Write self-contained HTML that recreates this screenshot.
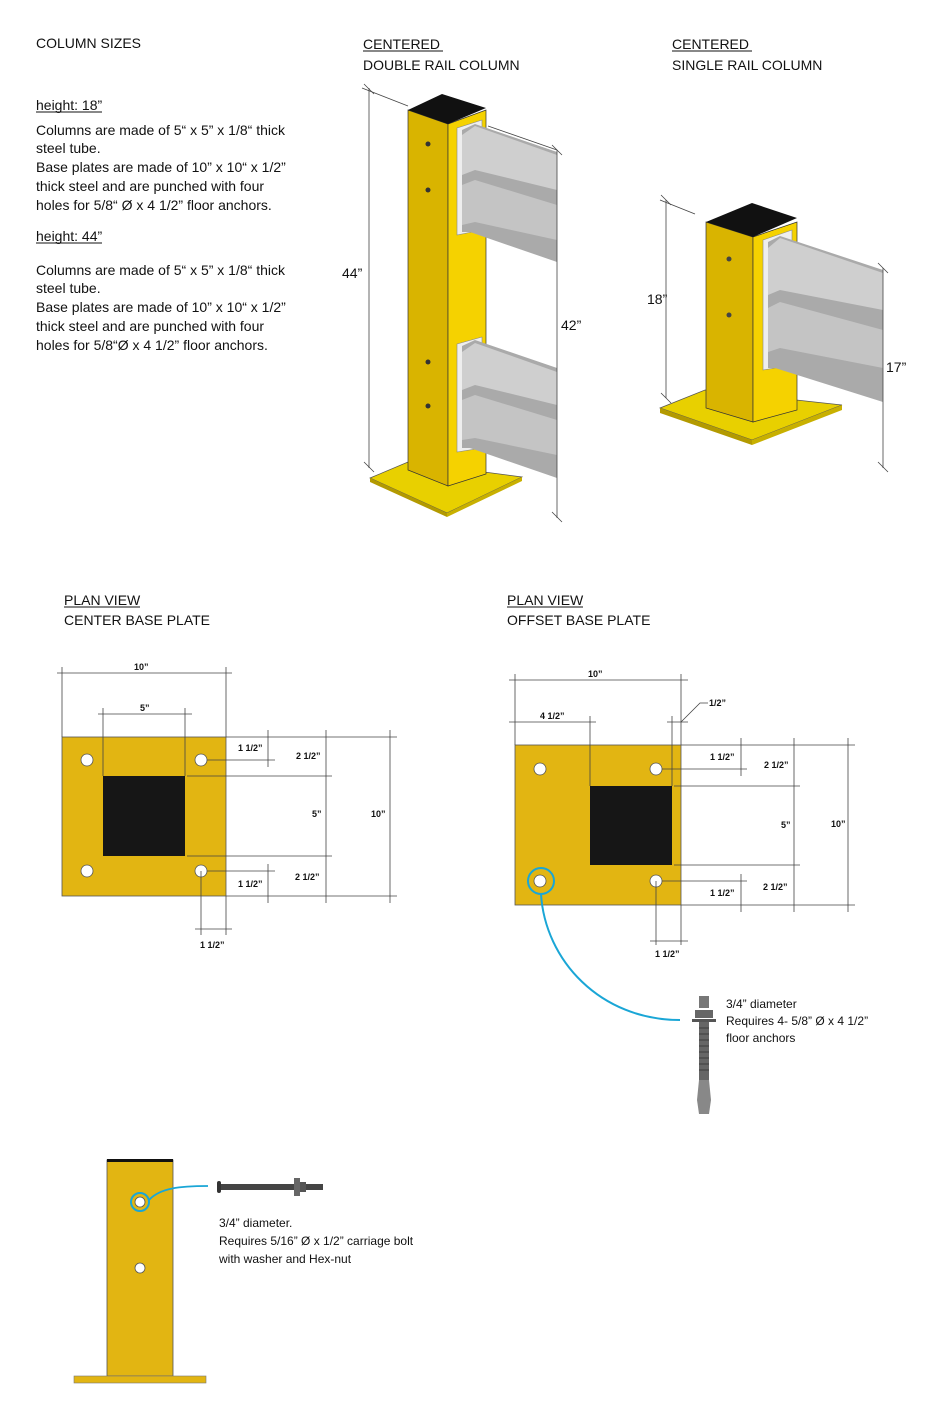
<!DOCTYPE html>
<html><head><meta charset="utf-8"><style>
html,body{margin:0;padding:0;background:#fff;}
svg{display:block;font-family:"Liberation Sans",sans-serif;}
.t{font-size:14px;fill:#111;}
.d{font-size:9px;font-weight:bold;fill:#111;}
.ln{stroke:#444;stroke-width:0.8;fill:none;}
</style></head><body>
<svg width="950" height="1404" viewBox="0 0 950 1404" xmlns="http://www.w3.org/2000/svg">
<text class="t" x="36" y="48">COLUMN SIZES</text>
<text class="t" x="363" y="49">CENTERED</text><line x1="363" y1="51" x2="443" y2="51" stroke="#111"/>
<text class="t" x="363" y="70">DOUBLE RAIL COLUMN</text>
<text class="t" x="672" y="49">CENTERED</text><line x1="672" y1="51" x2="752" y2="51" stroke="#111"/>
<text class="t" x="672" y="70">SINGLE RAIL COLUMN</text>
<text class="t" x="36" y="110">height: 18”</text><line x1="36" y1="112" x2="102" y2="112" stroke="#111"/>
<text class="t" x="36" y="135">Columns are made of 5“ x 5” x 1/8“ thick</text>
<text class="t" x="36" y="153">steel tube.</text>
<text class="t" x="36" y="172">Base plates are made of 10” x 10“ x 1/2”</text>
<text class="t" x="36" y="191">thick steel and are punched with four</text>
<text class="t" x="36" y="210">holes for 5/8“ Ø x 4 1/2” floor anchors.</text>
<text class="t" x="36" y="241">height: 44”</text><line x1="36" y1="243" x2="102" y2="243" stroke="#111"/>
<text class="t" x="36" y="275">Columns are made of 5“ x 5” x 1/8“ thick</text>
<text class="t" x="36" y="293">steel tube.</text>
<text class="t" x="36" y="312">Base plates are made of 10” x 10“ x 1/2”</text>
<text class="t" x="36" y="331">thick steel and are punched with four</text>
<text class="t" x="36" y="350">holes for 5/8“Ø  x 4 1/2” floor anchors.</text>

<line class="ln" x1="369" y1="88" x2="369" y2="468"/>
<line class="ln" x1="362" y1="88" x2="408" y2="106"/>
<line class="ln" x1="364" y1="84" x2="374" y2="94"/><line class="ln" x1="364" y1="462" x2="374" y2="472"/>
<text class="t" x="342" y="278">44”</text>
<polygon points="370,478 408,462 522,477 447,513" fill="#e8d000" stroke="#555" stroke-width="0.7"/>
<polygon points="370,478 447,513 447,517 370,482" fill="#b39a00"/>
<polygon points="447,513 522,477 522,481 447,517" fill="#c8b000"/>
<polygon points="408,110 448,124 448,486 408,470" fill="#d9b400" stroke="#333" stroke-width="0.7"/>
<polygon points="448,124 486,110 486,474 448,486" fill="#f5d200" stroke="#333" stroke-width="0.7"/>
<polygon points="408,110 442,94 486,108 448,124" fill="#111"/>
<circle cx="428" cy="144" r="2.5" fill="#333"/><circle cx="428" cy="190" r="2.5" fill="#333"/>
<circle cx="428" cy="362" r="2.5" fill="#333"/><circle cx="428" cy="406" r="2.5" fill="#333"/>
<polygon points="457,128 482,120 482,230 457,235" fill="#eee" stroke="#888" stroke-width="0.6"/>
<polygon points="462,130 475,124 557,152 557,262 470,232 462,232" fill="#aaa"/>
<polygon points="462,135 475,126 557,155 557,190 475,170 462,175" fill="#cfcfcf"/>
<polygon points="462,185 475,180 557,205 557,240 475,222 462,225" fill="#c4c4c4"/>
<polygon points="457,344 482,337 482,448 457,452" fill="#eee" stroke="#888" stroke-width="0.6"/>
<polygon points="462,346 475,340 557,368 557,478 470,448 462,448" fill="#aaa"/>
<polygon points="462,352 475,343 557,372 557,405 475,385 462,390" fill="#cfcfcf"/>
<polygon points="462,400 475,395 557,420 557,455 475,438 462,440" fill="#c4c4c4"/>
<line class="ln" x1="557" y1="150" x2="557" y2="518"/>
<line class="ln" x1="488" y1="126" x2="557" y2="150"/>
<line class="ln" x1="552" y1="145" x2="562" y2="155"/><line class="ln" x1="552" y1="512" x2="562" y2="522"/>
<text class="t" x="561" y="330">42”</text>

<line class="ln" x1="666" y1="200" x2="666" y2="398"/>
<line class="ln" x1="660" y1="200" x2="695" y2="214"/>
<line class="ln" x1="661" y1="195" x2="671" y2="205"/><line class="ln" x1="661" y1="393" x2="671" y2="403"/>
<text class="t" x="647" y="304">18”</text>
<polygon points="660,408 705,390 842,405 752,440" fill="#e8d000" stroke="#555" stroke-width="0.7"/>
<polygon points="660,408 752,440 752,445 660,413" fill="#b39a00"/>
<polygon points="752,440 842,405 842,410 752,445" fill="#c8b000"/>
<polygon points="706,222 753,237 753,422 706,408" fill="#d9b400" stroke="#333" stroke-width="0.7"/>
<polygon points="753,237 797,222 797,410 753,422" fill="#f5d200" stroke="#333" stroke-width="0.7"/>
<polygon points="706,222 752,203 797,218 753,237" fill="#111"/>
<circle cx="729" cy="259" r="2.5" fill="#444"/><circle cx="729" cy="315" r="2.5" fill="#444"/>
<polygon points="763,240 792,230 792,365 763,370" fill="#eee" stroke="#888" stroke-width="0.6"/>
<polygon points="768,242 780,236 883,270 883,402 775,368 768,368" fill="#aaa"/>
<polygon points="768,248 780,238 883,273 883,310 780,290 768,295" fill="#cfcfcf"/>
<polygon points="768,308 780,302 883,330 883,368 780,348 768,352" fill="#c4c4c4"/>
<line class="ln" x1="883" y1="268" x2="883" y2="468"/>
<line class="ln" x1="878" y1="263" x2="888" y2="273"/><line class="ln" x1="878" y1="462" x2="888" y2="472"/>
<text class="t" x="886" y="372">17”</text>

<text class="t" x="64" y="605">PLAN VIEW</text><line x1="64" y1="607" x2="140" y2="607" stroke="#111"/>
<text class="t" x="64" y="625">CENTER BASE PLATE</text>
<text class="t" x="507" y="605">PLAN VIEW</text><line x1="507" y1="607" x2="583" y2="607" stroke="#111"/>
<text class="t" x="507" y="625">OFFSET BASE PLATE</text>

<rect x="62" y="737" width="164" height="159" fill="#e2b512" stroke="#555" stroke-width="0.8"/>
<rect x="103" y="776" width="82" height="80" fill="#161616"/>
<g fill="#fff" stroke="#555" stroke-width="0.8">
<circle cx="87" cy="760" r="6"/><circle cx="201" cy="760" r="6"/><circle cx="87" cy="871" r="6"/><circle cx="201" cy="871" r="6"/></g>
<g class="ln">
<line x1="57" y1="673" x2="232" y2="673"/><line x1="62" y1="667" x2="62" y2="737"/><line x1="226" y1="667" x2="226" y2="737"/>
<line x1="98" y1="714" x2="192" y2="714"/><line x1="103" y1="708" x2="103" y2="776"/><line x1="185" y1="708" x2="185" y2="776"/>
<line x1="226" y1="737" x2="397" y2="737"/><line x1="226" y1="896" x2="397" y2="896"/>
<line x1="207" y1="760" x2="275" y2="760"/><line x1="207" y1="871" x2="275" y2="871"/>
<line x1="187" y1="776" x2="332" y2="776"/><line x1="187" y1="856" x2="332" y2="856"/>
<line x1="268" y1="730" x2="268" y2="767"/><line x1="268" y1="864" x2="268" y2="903"/>
<line x1="326" y1="730" x2="326" y2="903"/><line x1="390" y1="730" x2="390" y2="903"/>
<line x1="201" y1="871" x2="201" y2="935"/><line x1="226" y1="896" x2="226" y2="935"/><line x1="195" y1="929" x2="232" y2="929"/>
</g>
<text class="d" x="134" y="670">10”</text><text class="d" x="140" y="711">5”</text>
<text class="d" x="238" y="751">1 1/2”</text><text class="d" x="296" y="759">2 1/2”</text>
<text class="d" x="312" y="817">5”</text><text class="d" x="371" y="817">10”</text>
<text class="d" x="238" y="887">1 1/2”</text><text class="d" x="295" y="880">2 1/2”</text>
<text class="d" x="200" y="948">1 1/2”</text>

<rect x="515" y="745" width="166" height="160" fill="#e2b512" stroke="#555" stroke-width="0.8"/>
<rect x="590" y="786" width="82" height="79" fill="#161616"/>
<g fill="#fff" stroke="#555" stroke-width="0.8">
<circle cx="540" cy="769" r="6"/><circle cx="656" cy="769" r="6"/><circle cx="540" cy="881" r="6"/><circle cx="656" cy="881" r="6"/></g>
<g class="ln">
<line x1="509" y1="680" x2="688" y2="680"/><line x1="515" y1="674" x2="515" y2="745"/><line x1="681" y1="674" x2="681" y2="745"/>
<line x1="509" y1="722" x2="596" y2="722"/><line x1="590" y1="716" x2="590" y2="786"/>
<line x1="667" y1="722" x2="688" y2="722"/><line x1="672" y1="716" x2="672" y2="786"/>
<polyline points="681,722 700,703 708,703"/>
<line x1="681" y1="745" x2="855" y2="745"/><line x1="681" y1="905" x2="855" y2="905"/>
<line x1="662" y1="769" x2="747" y2="769"/><line x1="662" y1="881" x2="747" y2="881"/>
<line x1="674" y1="786" x2="800" y2="786"/><line x1="674" y1="865" x2="800" y2="865"/>
<line x1="741" y1="738" x2="741" y2="776"/><line x1="741" y1="874" x2="741" y2="912"/>
<line x1="794" y1="738" x2="794" y2="912"/><line x1="848" y1="738" x2="848" y2="912"/>
<line x1="656" y1="881" x2="656" y2="945"/><line x1="681" y1="905" x2="681" y2="945"/><line x1="650" y1="941" x2="688" y2="941"/>
</g>
<text class="d" x="588" y="677">10”</text><text class="d" x="540" y="719">4 1/2”</text><text class="d" x="709" y="706">1/2”</text>
<text class="d" x="710" y="760">1 1/2”</text><text class="d" x="764" y="768">2 1/2”</text>
<text class="d" x="781" y="828">5”</text><text class="d" x="831" y="827">10”</text>
<text class="d" x="710" y="896">1 1/2”</text><text class="d" x="763" y="890">2 1/2”</text>
<text class="d" x="655" y="957">1 1/2”</text>
<circle cx="541" cy="881" r="13" fill="none" stroke="#1aa6d6" stroke-width="2"/>
<path d="M541,894 C545,960 600,1020 680,1020" fill="none" stroke="#1aa6d6" stroke-width="2"/>
<rect x="699" y="996" width="10" height="12" fill="#777"/>
<rect x="695" y="1010" width="18" height="8" fill="#666"/>
<rect x="692" y="1019" width="24" height="3" fill="#555"/>
<rect x="699" y="1022" width="10" height="58" fill="#666"/>
<g stroke="#333" stroke-width="0.8">
<line x1="699" y1="1028" x2="709" y2="1028"/><line x1="699" y1="1034" x2="709" y2="1034"/><line x1="699" y1="1040" x2="709" y2="1040"/><line x1="699" y1="1046" x2="709" y2="1046"/><line x1="699" y1="1052" x2="709" y2="1052"/><line x1="699" y1="1058" x2="709" y2="1058"/><line x1="699" y1="1064" x2="709" y2="1064"/><line x1="699" y1="1070" x2="709" y2="1070"/></g>
<polygon points="699,1080 709,1080 711,1100 709,1114 699,1114 697,1100" fill="#888"/>
<text x="726" y="1008" font-size="12" fill="#111">3/4” diameter</text>
<text x="726" y="1025" font-size="12" fill="#111">Requires 4- 5/8” Ø  x 4 1/2”</text>
<text x="726" y="1042" font-size="12" fill="#111">floor anchors</text>

<rect x="107" y="1160" width="66" height="216" fill="#e2b512" stroke="#555" stroke-width="0.8"/>
<rect x="107" y="1159" width="66" height="3" fill="#111"/>
<rect x="74" y="1376" width="132" height="7" fill="#e2b512" stroke="#777" stroke-width="0.6"/>
<circle cx="140" cy="1202" r="5" fill="#fff" stroke="#555" stroke-width="0.8"/>
<circle cx="140" cy="1202" r="9" fill="none" stroke="#1aa6d6" stroke-width="2"/>
<circle cx="140" cy="1268" r="5" fill="#fff" stroke="#555" stroke-width="0.8"/>
<path d="M149,1200 C160,1188 180,1186 208,1186" fill="none" stroke="#1aa6d6" stroke-width="1.8"/>
<rect x="217" y="1181" width="4" height="12" rx="2" fill="#333"/>
<rect x="221" y="1184" width="102" height="6" fill="#444"/>
<rect x="294" y="1178" width="6" height="18" fill="#666"/>
<rect x="300" y="1182" width="6" height="10" fill="#555"/>
<text x="219" y="1227" font-size="12" fill="#111">3/4” diameter.</text>
<text x="219" y="1245" font-size="12" fill="#111">Requires 5/16” Ø  x 1/2” carriage bolt</text>
<text x="219" y="1263" font-size="12" fill="#111">with washer and Hex-nut</text>
</svg>
</body></html>
